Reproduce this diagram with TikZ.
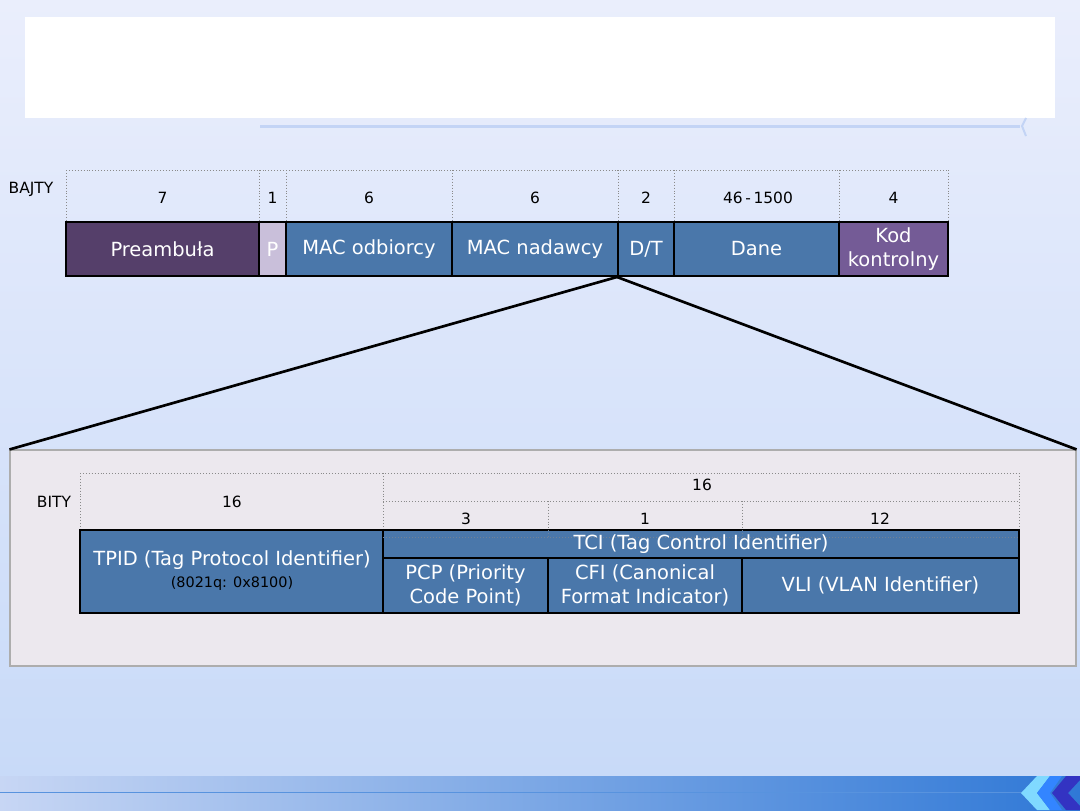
\documentclass[tikz,border=0pt]{standalone}
\usepackage{fontspec}
\setmainfont{DejaVu Sans}
\usetikzlibrary{fit}
\definecolor{bgtop}{HTML}{EAEEFC}
\definecolor{bgbot}{HTML}{C8DAF8}
\definecolor{prec}{HTML}{553F6A}
\definecolor{pc}{HTML}{C9BFDA}
\definecolor{bluec}{HTML}{4A77AA}
\definecolor{kodc}{HTML}{745B96}
\definecolor{lowc}{HTML}{ECE8EE}
\definecolor{barl}{HTML}{C7D6F4}
\definecolor{barr}{HTML}{2F78D6}
\definecolor{dotc}{HTML}{8A8A8A}
\definecolor{linec}{HTML}{C3D4F5}
\begin{document}
\begin{tikzpicture}[x=0.75pt,y=-0.75pt,
  blk/.style={draw=black, line width=1.5pt, inner sep=0pt},
  txt/.style={text=white, font=\fontsize{14.6}{18}\selectfont, align=center, inner sep=0pt},
  lbl/.style={font=\fontsize{11.6}{13}\selectfont, text=black, inner sep=0pt},
  dots/.style={draw=dotc, line width=0.5pt, dash pattern=on 0.6pt off 1.6pt}]
\useasboundingbox (0,0) rectangle (1080,810);
% background
\shade[top color=bgtop, bottom color=bgbot] (0,0) rectangle (1080,776);
\fill[white] (25,17) rectangle (1055,118);
\fill[linec] (260,124.5) rectangle (1020,128);
\draw[linec, line width=1.5pt] (1026,118) -- (1022,126) -- (1026,136);
% bottom bar
\shade[left color=barl, right color=barr] (0,776) rectangle (1080,810);
\draw[barr!80!white, line width=0.6pt] (0,792.5) -- (1040,792.5);
\fill[blue!30!cyan!50!white] (1037,776) -- (1050,776) -- (1037,793) -- (1050,810) -- (1037,810) -- (1021,793) -- cycle;
\fill[blue!60!cyan!80!white] (1050,776) -- (1062,776) -- (1050,793) -- (1062,810) -- (1050,810) -- (1037,793) -- cycle;
\fill[blue!70!black!80] (1066,776) -- (1080,776) -- (1080,780) -- (1068,793) -- (1080,806) -- (1080,810) -- (1066,810) -- (1052,793) -- cycle;
% byte row dotted guides
\draw[dots] (66,170) -- (948,170);
\foreach \x in {66,259,286,452,618,674,839,948} \draw[dots] (\x,170) -- (\x,222);
\node[lbl] (bajty) at (31,189) {BAJTY};
\node[lbl] (b1) at (162.5,198) {7};
\node[lbl] (b2) at (272.5,198) {1};
\node[lbl] (b3) at (369,198) {6};
\node[lbl] (b4) at (535,198) {6};
\node[lbl] (b5) at (646,198) {2};
\node[lbl] (b6) at (758,198) {46\,-\,1500};
\node[lbl] (b7) at (893.5,198) {4};
% byte blocks
\node[blk, fill=prec, fit={(66,222) (259,276)}] (pre) {};
\node[blk, fill=pc, fit={(259,222) (286,276)}] (p) {};
\node[blk, fill=bluec, fit={(286,222) (452,276)}] (macd) {};
\node[blk, fill=bluec, fit={(452,222) (618,276)}] (macn) {};
\node[blk, fill=bluec, fit={(618,222) (674,276)}] (dt) {};
\node[blk, fill=bluec, fit={(674,222) (839,276)}] (dane) {};
\node[blk, fill=kodc, fit={(839,222) (948,276)}] (kod) {};
\node[txt] (pret) at (pre.center) {Preambuła};
\node[txt] (pt) at (p.center) {P};
\node[txt] (macdt) at (macd.center) {MAC odbiorcy};
\node[txt] (macnt) at (macn.center) {MAC nadawcy};
\node[txt] (dtt) at (dt.center) {D/T};
\node[txt] (danet) at (dane.center) {Dane};
\node[txt] (kodt) at (kod.center) {Kod\\kontrolny};
% lower panel
\node[draw=dotc!70!white, line width=0.8pt, fill=lowc, inner sep=0pt, fit={(10,450) (1076,666)}] (low) {};
\draw[line width=2pt] (dt.south west) -- (low.north west);
\draw[line width=2pt] (dt.south west) -- (low.north east);
% bits dotted guides
\draw[dots] (80,473) -- (1019,473);
\draw[dots] (383,501) -- (1019,501);
\foreach \x in {80,383,1019} \draw[dots] (\x,473) -- (\x,530);
\foreach \x in {548,742} \draw[dots] (\x,501) -- (\x,530);
\node[lbl] (bity) at (54,502) {BITY};
\node[lbl] (t1) at (232,502) {16};
\node[lbl] (t2) at (702,485) {16};
\node[lbl] (t3) at (466,519) {3};
\node[lbl] (t4) at (645,519) {1};
\node[lbl] (t5) at (880,519) {12};
% bit blocks
\node[blk, fill=bluec, fit={(80,530) (383,613)}] (tpid) {};
\node[txt] (tpidt) at (232,560) {TPID (Tag Protocol Identifier)};
\node[text=black, font=\fontsize{10.8}{13}\selectfont, inner sep=0pt] (tpids) at (232,584) {(8021q: 0x8100)};
\node[blk, fill=bluec, fit={(383,530) (1019,558)}] (tci) {};
\draw[dots, draw=dotc!60!bluec] (383,537) -- (1019,537);
\foreach \x in {548,742} \draw[dots, draw=dotc!60!bluec] (\x,530) -- (\x,537);
\node[txt] (tcit) at (701,544) {TCI (Tag Control Identifier)};
\node[blk, fill=bluec, fit={(383,558) (548,613)}] (pcp) {};
\node[blk, fill=bluec, fit={(548,558) (742,613)}] (cfi) {};
\node[blk, fill=bluec, fit={(742,558) (1019,613)}] (vli) {};
\node[txt] (pcpt) at (pcp.center) {PCP (Priority\\Code Point)};
\node[txt] (cfit) at (cfi.center) {CFI (Canonical\\Format Indicator)};
\node[txt] (vlit) at (vli.center) {VLI (VLAN Identifier)};
\end{tikzpicture}
\end{document}
